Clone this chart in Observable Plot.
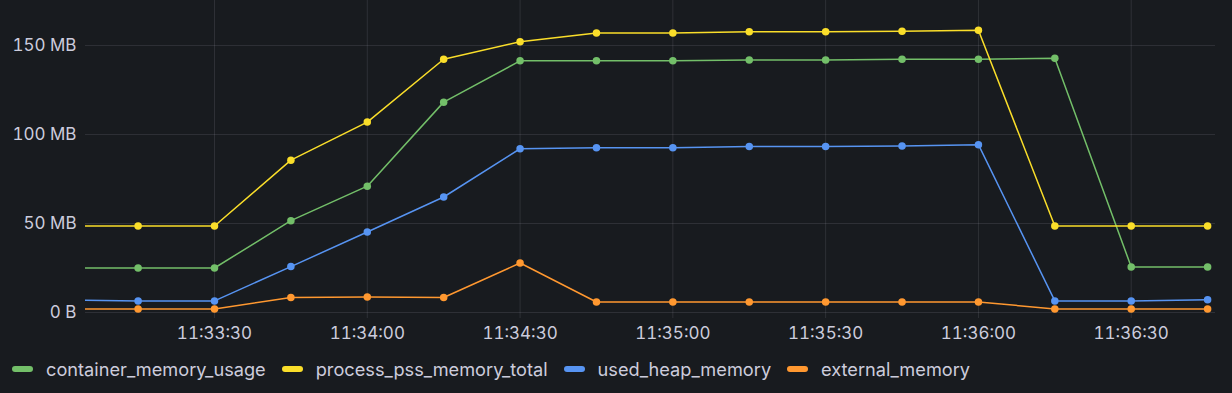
<!DOCTYPE html>
<html>
<head>
<meta charset="utf-8">
<script src="https://cdn.jsdelivr.net/npm/d3@7"></script>
<script src="https://cdn.jsdelivr.net/npm/@observablehq/plot@0.6"></script>
<style>
  html, body { margin: 0; padding: 0; background: #181b1f; overflow: hidden; }
  body { width: 1232px; height: 393px; font-family: Inter, "Noto Sans", sans-serif; color: #ccccdc; }
  #legend { display: flex; align-items: center; height: 48px; padding-left: 12px; font-size: 18.2px; }
  .item { display: flex; align-items: center; margin-right: 16px; }
  .swatch { width: 21px; height: 6px; border-radius: 3px; margin-right: 13px; }
</style>
</head>
<body>
<div id="chart"></div>
<div id="legend"></div>
<script>
// ---- data (MB) ----
const times = ["11:33:00","11:33:15","11:33:30","11:33:45","11:34:00","11:34:15","11:34:30","11:34:45",
               "11:35:00","11:35:15","11:35:30","11:35:45","11:36:00","11:36:15","11:36:30","11:36:45"];
const seriesNames = ["container_memory_usage","process_pss_memory_total","used_heap_memory","external_memory"];
const seriesColors = ["#73BF69","#FADE2A","#5794F2","#FF9830"];
const containerMemoryUsage   = [25.0, 25.0, 25.0, 51.6, 71.0, 118.2, 141.4, 141.4, 141.4, 141.8, 141.8, 142.3, 142.3, 142.9, 25.6, 25.6];
const processPssMemoryTotal  = [48.6, 48.6, 48.6, 85.6, 107.0, 142.3, 152.1, 157.1, 157.1, 157.7, 157.7, 158.0, 158.6, 48.6, 48.6, 48.6];
const usedHeapMemory         = [7.1, 6.5, 6.5, 25.8, 45.2, 64.9, 92.0, 92.6, 92.6, 93.2, 93.2, 93.5, 94.3, 6.5, 6.5, 7.1];
const externalMemory         = [2.0, 2.0, 2.0, 8.4, 8.75, 8.4, 27.8, 5.9, 5.9, 5.9, 5.9, 5.9, 5.9, 2.0, 2.0, 2.0];
const yTicks = [0, 50, 100, 150];
const yTickLabels = ["0 B", "50 MB", "100 MB", "150 MB"];
const xTicks = ["11:33:30","11:34:00","11:34:30","11:35:00","11:35:30","11:36:00","11:36:30"];
const xDomain = ["11:33:04.67","11:36:46.55"];
const yMax = 175.3;

// ---- build table ----
const parse = d3.utcParse("%H:%M:%S");
const parseMs = d3.utcParse("%H:%M:%S.%L");
const seriesValues = [containerMemoryUsage, processPssMemoryTotal, usedHeapMemory, externalMemory];
const rows = [];
seriesNames.forEach((name, i) => {
  times.forEach((t, j) => rows.push({ series: name, time: parse(t), value: seriesValues[i][j] }));
});
const xDom = [parseMs(xDomain[0].padEnd(12, "0")), parseMs(xDomain[1].padEnd(12, "0"))];
const fmt = d3.utcFormat("%H:%M:%S");
const grid = "rgba(204,204,220,0.12)";

const chart = Plot.plot({
  width: 1232,
  height: 345,
  marginLeft: 85,
  marginRight: 17,
  marginTop: 0,
  marginBottom: 27,
  insetBottom: 6,
  style: { background: "#181b1f", color: "#ccccdc", fontFamily: "Inter, sans-serif", fontSize: "17px" },
  x: { type: "utc", domain: xDom },
  y: { domain: [0, yMax] },
  color: { domain: seriesNames, range: seriesColors },
  marks: [
    Plot.gridY(yTicks, { stroke: grid, strokeOpacity: 1 }),
    Plot.gridX(xTicks.map(parse), { stroke: grid, strokeOpacity: 1 }),
    Plot.axisY(yTicks, { tickSize: 0, tickPadding: 9, tickFormat: (d) => yTickLabels[yTicks.indexOf(d)], label: null, fontSize: 17 }),
    Plot.axisX(xTicks.map(parse), { tickSize: 0, tickPadding: 8, tickFormat: fmt, label: null, fontSize: 17 }),
    Plot.line(rows, { x: "time", y: "value", z: "series", stroke: "series", strokeWidth: 1.5, clip: true }),
    Plot.dot(rows, { x: "time", y: "value", fill: "series", r: 3.75, clip: true })
  ]
});
document.getElementById("chart").appendChild(chart);

const legend = document.getElementById("legend");
seriesNames.forEach((name, i) => {
  const item = document.createElement("div");
  item.className = "item";
  const sw = document.createElement("div");
  sw.className = "swatch";
  sw.style.background = seriesColors[i];
  const label = document.createElement("span");
  label.textContent = name;
  item.appendChild(sw);
  item.appendChild(label);
  legend.appendChild(item);
});
</script>
</body>
</html>
